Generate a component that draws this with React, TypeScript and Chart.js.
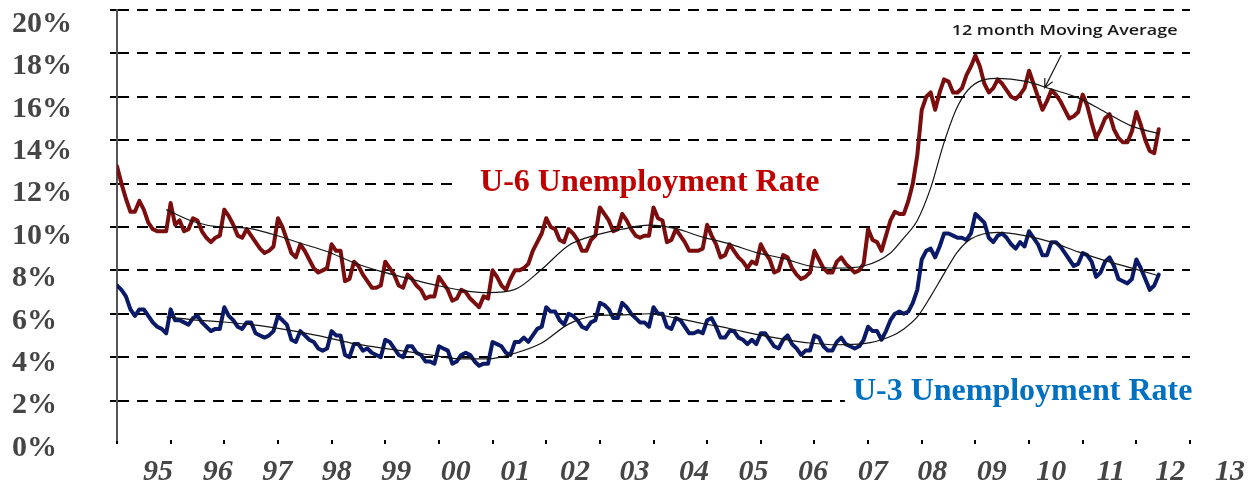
import React, { useEffect, useRef } from "react";
import { Chart, registerables } from "chart.js";

Chart.register(...registerables);

// Monthly values, Jan 1994 - Jun 2013 (%), not seasonally adjusted
const u6Rate: number[] = [
  12.8, 12.0, 11.3, 10.7, 10.7, 11.2, 10.8, 10.2, 9.9, 9.8, 9.8, 9.8, // 1994
  11.1, 10.1, 10.3, 9.8, 9.9, 10.4, 10.3, 9.8, 9.5, 9.3, 9.5, 9.6, // 1995
  10.8, 10.5, 10.1, 9.6, 9.5, 9.9, 9.6, 9.3, 9.0, 8.8, 8.9, 9.1, // 1996
  10.4, 10.0, 9.4, 8.8, 8.6, 9.2, 8.9, 8.5, 8.1, 7.9, 8.0, 8.1, // 1997
  9.2, 8.9, 8.9, 7.5, 7.6, 8.4, 8.2, 7.8, 7.5, 7.2, 7.2, 7.3, // 1998
  8.4, 8.1, 7.8, 7.3, 7.2, 7.8, 7.6, 7.3, 7.1, 6.7, 6.8, 6.8, // 1999
  7.7, 7.4, 7.1, 6.6, 6.7, 7.1, 7.0, 6.7, 6.5, 6.3, 6.8, 6.7, // 2000
  8.0, 7.7, 7.3, 7.1, 7.6, 8.0, 8.0, 8.1, 8.3, 8.9, 9.3, 9.7, // 2001
  10.4, 10.0, 9.9, 9.4, 9.3, 9.9, 9.7, 9.4, 8.9, 8.9, 9.4, 9.6, // 2002
  10.9, 10.6, 10.3, 9.8, 9.9, 10.6, 10.3, 9.9, 9.6, 9.5, 9.6, 9.6, // 2003
  10.9, 10.4, 10.3, 9.3, 9.4, 9.9, 9.6, 9.3, 8.9, 8.9, 8.9, 9.0, // 2004
  10.1, 9.6, 9.2, 8.6, 8.7, 9.2, 8.9, 8.6, 8.4, 8.1, 8.4, 8.3, // 2005
  9.2, 8.8, 8.5, 7.9, 8.0, 8.7, 8.6, 8.1, 7.8, 7.6, 7.7, 7.9, // 2006
  8.9, 8.5, 8.1, 7.9, 7.9, 8.4, 8.6, 8.3, 8.1, 7.9, 8.0, 8.3, // 2007
  9.9, 9.4, 9.3, 8.9, 9.6, 10.3, 10.7, 10.6, 10.6, 11.2, 12.0, 13.3, // 2008
  15.4, 16.0, 16.2, 15.4, 16.2, 16.8, 16.7, 16.2, 16.2, 16.4, 17.0, 17.4, // 2009
  17.9, 17.4, 16.6, 16.2, 16.4, 16.8, 16.6, 16.3, 16.0, 15.9, 16.1, 16.4, // 2010
  17.2, 16.6, 16.0, 15.4, 15.8, 16.3, 16.1, 15.8, 15.4, 15.0, 15.1, 15.3, // 2011
  16.1, 15.6, 14.8, 14.1, 14.5, 15.0, 15.2, 14.5, 14.1, 13.9, 13.9, 14.4, // 2012
  15.3, 14.7, 14.0, 13.5, 13.4, 14.5, // 2013
];

const u3Rate: number[] = [
  7.3, 7.1, 6.8, 6.2, 5.9, 6.2, 6.2, 5.9, 5.6, 5.4, 5.3, 5.1, // 1994
  6.2, 5.7, 5.7, 5.6, 5.5, 5.8, 5.9, 5.6, 5.4, 5.2, 5.3, 5.3, // 1995
  6.3, 5.9, 5.7, 5.4, 5.3, 5.6, 5.6, 5.1, 5.0, 4.9, 5.0, 5.2, // 1996
  5.9, 5.7, 5.5, 4.8, 4.7, 5.2, 5.0, 4.8, 4.7, 4.4, 4.3, 4.4, // 1997
  5.2, 5.0, 5.0, 4.1, 4.0, 4.6, 4.6, 4.3, 4.4, 4.2, 4.1, 4.0, // 1998
  4.8, 4.7, 4.4, 4.1, 4.0, 4.5, 4.5, 4.2, 4.1, 3.8, 3.8, 3.7, // 1999
  4.5, 4.4, 4.3, 3.7, 3.8, 4.1, 4.2, 4.1, 3.8, 3.6, 3.7, 3.7, // 2000
  4.7, 4.6, 4.5, 4.2, 4.1, 4.7, 4.7, 4.9, 4.7, 5.0, 5.3, 5.4, // 2001
  6.3, 6.1, 6.1, 5.7, 5.5, 6.0, 5.9, 5.7, 5.4, 5.3, 5.6, 5.7, // 2002
  6.5, 6.4, 6.2, 5.8, 5.8, 6.5, 6.3, 6.0, 5.8, 5.6, 5.6, 5.4, // 2003
  6.3, 6.0, 6.0, 5.4, 5.3, 5.8, 5.7, 5.4, 5.1, 5.1, 5.2, 5.1, // 2004
  5.7, 5.8, 5.4, 4.9, 4.9, 5.2, 5.2, 4.9, 4.8, 4.6, 4.8, 4.6, // 2005
  5.1, 5.1, 4.8, 4.5, 4.4, 4.8, 5.0, 4.6, 4.4, 4.1, 4.3, 4.3, // 2006
  5.0, 4.9, 4.5, 4.3, 4.3, 4.7, 4.9, 4.6, 4.5, 4.4, 4.5, 4.8, // 2007
  5.4, 5.2, 5.2, 4.8, 5.2, 5.7, 6.0, 6.1, 6.0, 6.1, 6.5, 7.1, // 2008
  8.5, 8.9, 9.0, 8.6, 9.1, 9.7, 9.7, 9.6, 9.5, 9.5, 9.4, 9.7, // 2009
  10.6, 10.4, 10.2, 9.5, 9.3, 9.6, 9.7, 9.5, 9.2, 9.0, 9.3, 9.1, // 2010
  9.8, 9.5, 9.2, 8.7, 8.7, 9.3, 9.3, 9.1, 8.8, 8.5, 8.2, 8.3, // 2011
  8.8, 8.7, 8.4, 7.7, 7.9, 8.4, 8.6, 8.2, 7.6, 7.5, 7.4, 7.6, // 2012
  8.5, 8.1, 7.6, 7.1, 7.3, 7.8, // 2013
];

// 12 month moving averages, read at these months (months since Jan 1994)
const maMonths = [
  11, 17, 23, 29, 35, 41, 47, 53, 59, 65, 71, 77, 83, 89, 95, 101, 107, 113, 119, 125,
  131, 137, 143, 149, 155, 161, 167, 173, 176, 179, 182, 185, 188, 191, 197, 203, 209, 215, 221, 227, 233,
];
const u6MovingAvg = [
  10.8, 10.25, 10.0, 9.95, 9.65, 9.25, 8.87, 8.35, 7.95, 7.63, 7.33, 7.08, 6.97, 7.12, 8.05, 9.15, 9.62, 9.9, 10.08, 9.92,
  9.53, 9.22, 8.82, 8.55, 8.2, 8.1, 8.2, 8.8, 9.5, 10.3, 11.8, 13.9, 15.55, 16.45, 16.85, 16.72, 16.35, 15.95, 15.3, 14.65, 14.3,
];
const u3MovingAvg = [
  5.85, 5.72, 5.63, 5.52, 5.36, 5.15, 4.9, 4.62, 4.43, 4.25, 4.07, 3.92, 3.92, 4.18, 4.65, 5.52, 5.9, 5.95, 6.0, 5.8,
  5.55, 5.32, 5.05, 4.83, 4.65, 4.57, 4.62, 4.95, 5.3, 5.85, 6.8, 7.85, 8.85, 9.45, 9.75, 9.6, 9.3, 8.85, 8.45, 8.1, 7.75,
];

const gridValues = [2, 4, 6, 8, 10, 12, 14, 16, 18, 20];
const percentLabelValues = [0, 2, 4, 6, 8, 10, 12, 14, 16, 18, 20];
const yearTickMonths = [0, 12, 24, 36, 48, 60, 72, 84, 96, 108, 120, 132, 144, 156, 168, 180, 192, 204, 216, 228, 240];
const yearLabels = ["95", "96", "97", "98", "99", "00", "01", "02", "03", "04", "05", "06", "07", "08", "09", "10", "11", "12", "13"];
const yearLabelValues = [1995, 1996, 1997, 1998, 1999, 2000, 2001, 2002, 2003, 2004, 2005, 2006, 2007, 2008, 2009, 2010, 2011, 2012, 2013];

// annotation placement (in data units: month index, percent)
const seriesTitles = [
  { text: "U-6 Unemployment Rate", month: 81.2, value: 11.66, color: "#c00000" },
  { text: "U-3 Unemployment Rate", month: 164.6, value: 2.03, color: "#0070c0" },
];
const titleMasks = [
  { fromMonth: 76.0, toMonth: 174.6, top: 12.44, bottom: 11.43 },
  { fromMonth: 162.8, toMonth: 242, top: 2.4, bottom: 1.57 },
];
const maNote = { text: "12 month Moving Average", month: 186.7, endMonth: 237.2, value: 18.85 };
const maArrow = { fromMonth: 211.2, fromValue: 17.93, toMonth: 207.5, toValue: 16.41 };

const SERIF = '"Liberation Serif", "Times New Roman", serif';
const Y_LABEL_MIN = 0.377;
const Y_LABEL_MAX = 20.66;
const X_LABEL_MIN = 1994.31;
const X_LABEL_MAX = 2012.33;

const setTicks = (values: number[]) => (scale: any) => {
  scale.ticks = values.map((value) => ({ value }));
};
const fixSize = (w: number | null, h: number | null) => (scale: any) => {
  if (w !== null) scale.width = w;
  if (h !== null) scale.height = h;
  scale.paddingLeft = 0;
  scale.paddingRight = 0;
  scale.paddingTop = 0;
  scale.paddingBottom = 0;
};

const notesPlugin = {
  id: "notesPlugin",
  beforeDatasetsDraw(chart: any) {
    const { ctx, scales } = chart;
    const x = scales.x;
    const y = scales.y;
    ctx.save();
    ctx.fillStyle = "#ffffff";
    for (const m of titleMasks) {
      const x0 = x.getPixelForValue(m.fromMonth);
      const x1 = x.getPixelForValue(m.toMonth);
      const y0 = y.getPixelForValue(m.top);
      const y1 = y.getPixelForValue(m.bottom);
      ctx.fillRect(x0, y0, x1 - x0, y1 - y0);
    }
    ctx.restore();
  },
  afterDatasetsDraw(chart: any) {
    const { ctx, scales } = chart;
    const x = scales.x;
    const y = scales.y;
    ctx.save();
    ctx.textAlign = "left";
    ctx.textBaseline = "alphabetic";
    for (const t of seriesTitles) {
      ctx.font = `bold 32px ${SERIF}`;
      ctx.fillStyle = t.color;
      ctx.fillText(t.text, x.getPixelForValue(t.month), y.getPixelForValue(t.value));
    }
    // moving-average note
    ctx.font = '600 14px "Open Sans", "DejaVu Sans", sans-serif';
    ctx.fillStyle = "#1a1a1a";
    const px = x.getPixelForValue(maNote.month);
    const py = y.getPixelForValue(maNote.value);
    const target = x.getPixelForValue(maNote.endMonth) - px;
    const w = ctx.measureText(maNote.text).width;
    ctx.save();
    ctx.translate(px, py);
    ctx.scale(target / w, 1);
    ctx.fillText(maNote.text, 0, 0);
    ctx.restore();
    // arrow
    const ax0 = x.getPixelForValue(maArrow.fromMonth);
    const ay0 = y.getPixelForValue(maArrow.fromValue);
    const ax1 = x.getPixelForValue(maArrow.toMonth);
    const ay1 = y.getPixelForValue(maArrow.toValue);
    const ang = Math.atan2(ay1 - ay0, ax1 - ax0);
    const head = 10;
    ctx.strokeStyle = "#1a1a1a";
    ctx.lineWidth = 1.2;
    ctx.beginPath();
    ctx.moveTo(ax0, ay0);
    ctx.lineTo(ax1, ay1);
    ctx.moveTo(ax1 - head * Math.cos(ang - 0.45), ay1 - head * Math.sin(ang - 0.45));
    ctx.lineTo(ax1, ay1);
    ctx.lineTo(ax1 - head * Math.cos(ang + 0.45), ay1 - head * Math.sin(ang + 0.45));
    ctx.stroke();
    ctx.restore();
  },
};

export default function App() {
  const canvasRef = useRef<HTMLCanvasElement>(null);

  useEffect(() => {
    if (!canvasRef.current) return;
    const chart = new Chart(canvasRef.current, {
      type: "line",
      data: {
        datasets: [
          {
            label: "U-6 12 month moving average",
            data: maMonths.map((m, i) => ({ x: m, y: u6MovingAvg[i] })),
            borderColor: "#151515",
            borderWidth: 1.2,
            pointRadius: 0,
            tension: 0.4,
            cubicInterpolationMode: "monotone",
            order: 0,
          },
          {
            label: "U-3 12 month moving average",
            data: maMonths.map((m, i) => ({ x: m, y: u3MovingAvg[i] })),
            borderColor: "#151515",
            borderWidth: 1.2,
            pointRadius: 0,
            tension: 0.4,
            cubicInterpolationMode: "monotone",
            order: 0,
          },
          {
            label: "U-6 Unemployment Rate",
            data: u6Rate.map((v, i) => ({ x: i, y: v })),
            borderColor: "#7a0d0d",
            borderWidth: 4,
            pointRadius: 0,
            tension: 0,
            borderJoinStyle: "round",
            borderCapStyle: "round",
            order: 1,
          },
          {
            label: "U-3 Unemployment Rate",
            data: u3Rate.map((v, i) => ({ x: i, y: v })),
            borderColor: "#0b1a66",
            borderWidth: 4,
            pointRadius: 0,
            tension: 0,
            borderJoinStyle: "round",
            borderCapStyle: "round",
            order: 1,
          },
        ],
      },
      options: {
        animation: false,
        responsive: true,
        maintainAspectRatio: false,
        layout: { padding: { left: 12, top: 10, right: 64, bottom: 0 } },
        plugins: {
          legend: { display: false },
          tooltip: { enabled: false },
        },
        scales: {
          x: {
            type: "linear",
            position: "bottom",
            weight: 0,
            min: 0,
            max: 240,
            afterBuildTicks: setTicks(yearTickMonths),
            afterFit: fixSize(null, 4),
            ticks: { display: false },
            grid: {
              display: true,
              drawOnChartArea: false,
              drawTicks: true,
              tickLength: 4,
              color: "#000000",
              lineWidth: 2,
            },
            border: { display: false },
          },
          xLabels: {
            type: "linear",
            position: "bottom",
            weight: 1,
            min: X_LABEL_MIN,
            max: X_LABEL_MAX,
            afterBuildTicks: setTicks(yearLabelValues),
            afterFit: fixSize(null, 47),
            grid: { display: false, drawTicks: false },
            border: { display: false },
            ticks: {
              autoSkip: false,
              maxRotation: 0,
              minRotation: 0,
              padding: 10,
              color: "#454545",
              font: { family: SERIF, size: 30, weight: "bold", style: "italic" },
              callback: (v: any) => yearLabels[yearLabelValues.indexOf(Number(v))] ?? "",
            },
          },
          y: {
            type: "linear",
            position: "left",
            weight: 0,
            min: 0.18,
            max: 20,
            afterBuildTicks: setTicks(gridValues),
            afterFit: fixSize(7, null),
            ticks: { display: false },
            grid: {
              display: true,
              color: "#000000",
              lineWidth: 2,
              drawTicks: true,
              tickLength: 7,
            },
            border: { display: true, color: "#555555", width: 2, dash: [11, 8] },
          },
          yLabels: {
            type: "linear",
            position: "left",
            weight: 1,
            min: Y_LABEL_MIN,
            max: Y_LABEL_MAX,
            afterBuildTicks: setTicks(percentLabelValues),
            afterFit: fixSize(98, null),
            grid: { display: false, drawTicks: false },
            border: { display: false },
            ticks: {
              autoSkip: false,
              crossAlign: "far",
              padding: 0,
              color: "#454545",
              font: { family: SERIF, size: 30, weight: "bold" },
              callback: (v: any) => `${v}%`,
            },
          },
        },
      } as any,
      plugins: [notesPlugin],
    });
    return () => chart.destroy();
  }, []);

  return (
    <div
      style={{
        position: "fixed",
        left: 0,
        top: 0,
        width: 1254,
        height: 491,
        background: "#ffffff",
      }}
    >
      <canvas ref={canvasRef} />
    </div>
  );
}
